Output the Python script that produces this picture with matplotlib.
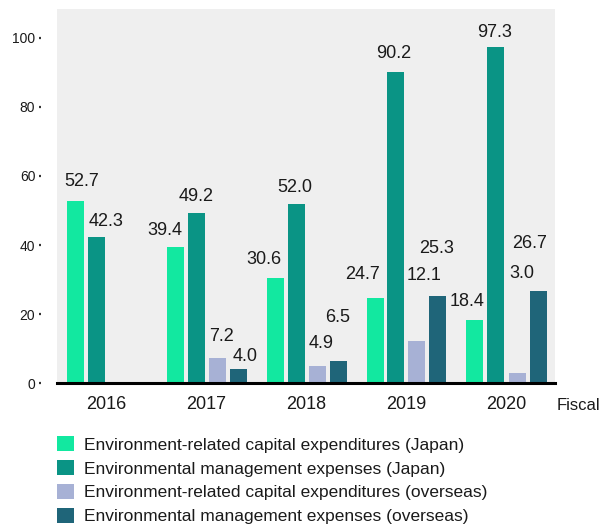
import matplotlib
matplotlib.use("Agg")
import matplotlib.pyplot as plt
import numpy as np
from matplotlib.patches import Patch

plt.rcParams['font.family'] = ['Liberation Sans', 'DejaVu Sans']

years = ["2016", "2017", "2018", "2019", "2020"]
series_names = [
    "Environment-related capital expenditures (Japan)",
    "Environmental management expenses (Japan)",
    "Environment-related capital expenditures (overseas)",
    "Environmental management expenses (overseas)",
]
capex_japan = [52.7, 39.4, 30.6, 24.7, 18.4]
mgmt_japan = [42.3, 49.2, 52.0, 90.2, 97.3]
capex_overseas = [None, 7.2, 4.9, 12.1, 3.0]
mgmt_overseas = [None, 4.0, 6.5, 25.3, 26.7]

colors = ["#12E8A0", "#0A9485", "#A7B1D5", "#1F6579"]

# value-label placement (pixels from the top-centre of each bar)
label_offsets = [
    [(6.5, 20), (-10.5, 17), (-11.5, 18.5), (-12, 23), (-7.5, 18.7)],
    [(10.5, 16), (0.5, 17), (-1.5, 16), (-2.5, 17.6), (-1.5, 15)],
    [None, (4.5, 22), (4.5, 23), (7.5, 65.5), (4.5, 99)],
    [None, (7.5, 12.5), (-0.5, 43), (-1.5, 47), (-8.5, 48)],
]

series = [capex_japan, mgmt_japan, capex_overseas, mgmt_overseas]

fig = plt.figure(figsize=(6.08, 5.26), dpi=100)
ax = fig.add_axes([57 / 608, 1 - 383.3 / 526, (555 - 57) / 608, (383.3 - 9) / 526])
ax.set_facecolor("#EFEFEF")

x = np.arange(len(years))
width = 0.17
offsets = [-0.315, -0.105, 0.105, 0.315]
text_color = "#1A1A1A"

for s, (vals, col, off, loffs) in enumerate(zip(series, colors, offsets, label_offsets)):
    for i, v in enumerate(vals):
        if v is None:
            continue
        ax.bar(x[i] + off, v, width=width, color=col, zorder=2)
        dx, dy = loffs[i]
        ax.annotate(f"{v:.1f}", xy=(x[i] + off, v), xytext=(dx, dy),
                    textcoords="offset pixels", ha="center", va="center",
                    fontsize=13, color=text_color)

ax.set_xlim(-0.495, 4.485)
ax.set_ylim(0, 108.3)

ax.set_xticks(x)
ax.set_xticklabels(years, fontsize=13, color=text_color)
ax.tick_params(axis="x", length=0, pad=9)

ax.set_yticks([0, 20, 40, 60, 80, 100])
ax.tick_params(axis="y", direction="out", length=1.6, width=1.6, color="#333333",
               labelsize=10, labelcolor=text_color, pad=2.5)
ax.spines["left"].set_position(("outward", 11.5))
ax.spines["left"].set_linewidth(0)
for side in ["top", "right"]:
    ax.spines[side].set_visible(False)
ax.spines["bottom"].set_color("black")
ax.spines["bottom"].set_linewidth(2.2)
ax.spines["bottom"].set_zorder(3)

fig.text(557 / 608, 1 - 405 / 526, "Fiscal", fontsize=12, color=text_color,
         ha="left", va="center")

handles = [Patch(facecolor=c, edgecolor="none") for c in colors]
fig.legend(handles, series_names, loc="upper left",
           bbox_to_anchor=(57 / 608, 1 - 436 / 526), frameon=False,
           fontsize=12.5, handlelength=0.98, handleheight=0.98, handletextpad=0.6,
           labelspacing=0.42, borderpad=0, borderaxespad=0, labelcolor=text_color)

fig.savefig("out.png", dpi=100)
